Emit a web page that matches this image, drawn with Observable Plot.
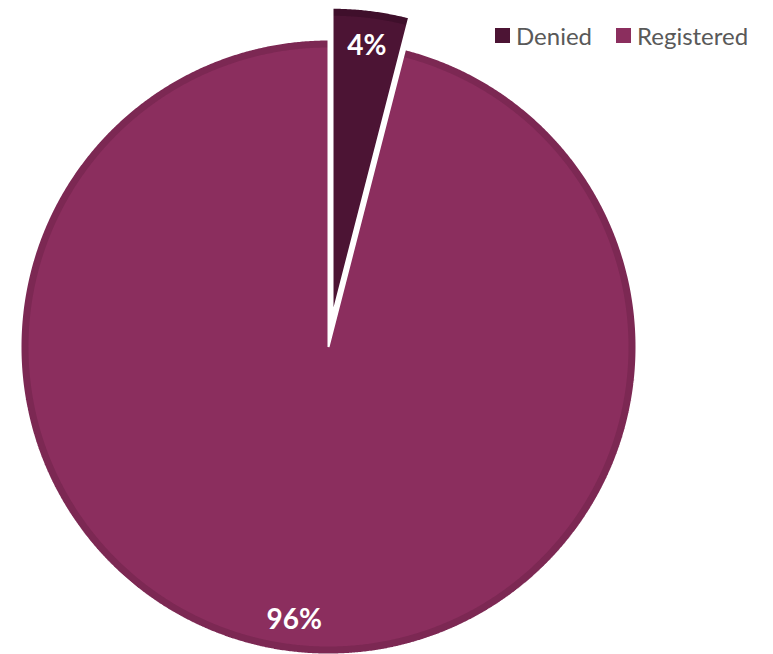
<!DOCTYPE html>
<html><head><meta charset="utf-8">
<script src="https://cdn.jsdelivr.net/npm/d3@7"></script>
<script src="https://cdn.jsdelivr.net/npm/@observablehq/plot@0.6"></script>
<style>
body{margin:0;background:#fff;}
#wrap{position:relative;width:773px;height:654px;overflow:hidden;}
.lg{position:absolute;top:21px;display:flex;align-items:center;font-family:Lato,"Open Sans",sans-serif;font-size:24px;color:#595959;white-space:nowrap;}
.sw{width:15px;height:15px;margin-right:6px;}
</style></head><body><div id="wrap"></div>
<script>
const categories = ["Denied", "Registered"];
const values = [4, 96];
const labels = ["4%", "96%"];
const colors = ["#4C1434", "#8B2E5E"];
const rimColors = ["#3F0F2B", "#7C2853"];
const explode = [0.104, 0];

const arcs = d3.pie().sort(null).value(d => d)(values);
const slices = [], rims = [], texts = [];
arcs.forEach((a, i) => {
  const mid = (a.startAngle + a.endAngle) / 2;
  const ox = explode[i] * Math.sin(mid), oy = explode[i] * Math.cos(mid);
  const n = Math.max(4, Math.ceil((a.endAngle - a.startAngle) / 0.005));
  slices.push({cat: categories[i], x: ox, y: oy});
  for (let k = 0; k <= n; k++) {
    const t = a.startAngle + (a.endAngle - a.startAngle) * k / n;
    slices.push({cat: categories[i], x: ox + Math.sin(t), y: oy + Math.cos(t)});
    rims.push({cat: categories[i], x: ox + 0.987 * Math.sin(t), y: oy + 0.987 * Math.cos(t)});
  }
  texts.push({cat: categories[i], label: labels[i], x: ox + 0.89 * Math.sin(mid), y: oy + 0.89 * Math.cos(mid)});
});

const chart = Plot.plot({
  width: 773, height: 654,
  marginLeft: 20, marginRight: 137, marginTop: 39, marginBottom: 0,
  x: {domain: [-1, 1], axis: null},
  y: {domain: [-1, 1], axis: null},
  color: {domain: categories, range: colors},
  style: {background: "white"},
  marks: [
    Plot.line(slices, {x: "x", y: "y", z: "cat", fill: "cat", stroke: "none", curve: "linear-closed"}),
    Plot.line(rims, {x: "x", y: "y", z: "cat", stroke: d => rimColors[categories.indexOf(d.cat)], strokeWidth: 8, strokeLinecap: "butt"}),
    Plot.line(slices, {x: "x", y: "y", z: "cat", fill: "none", stroke: "white", strokeWidth: 2, strokeLinejoin: "miter", curve: "linear-closed"}),
    Plot.text(texts, {x: "x", y: "y", text: "label", dy: 2, fill: "white", fontSize: 28, fontWeight: "bold", fontFamily: "Lato, 'Open Sans', sans-serif"})
  ]
});
const wrap = document.getElementById("wrap");
wrap.appendChild(chart);
const lefts = [495, 616];
categories.forEach((c, i) => {
  const d = document.createElement("div");
  d.className = "lg";
  d.style.left = lefts[i] + "px";
  d.innerHTML = `<div class="sw" style="background:${colors[i]}"></div><span>${c}</span>`;
  wrap.appendChild(d);
});
</script></body></html>
